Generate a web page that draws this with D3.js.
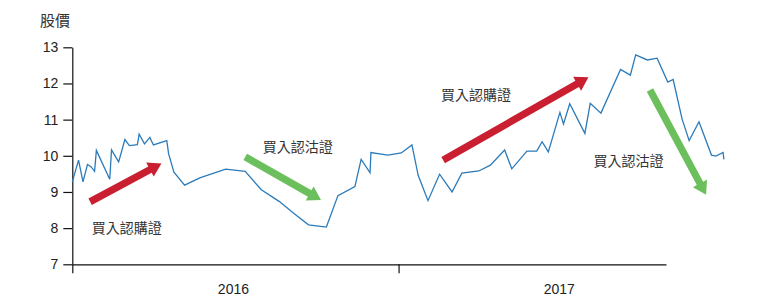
<!DOCTYPE html>
<html>
<head>
<meta charset="utf-8">
<script src="https://cdn.jsdelivr.net/npm/d3@7"></script>
<style>
  body { margin: 0; background: #fff; }
  svg { display: block; }
  .axis text { font-family: "Liberation Sans", Arial, sans-serif; font-size: 14px; fill: #222; }
  .axis path, .axis line { stroke: #111; stroke-width: 1.2; }
  .note { font-family: "Noto Sans CJK TC", sans-serif; font-size: 14px; fill: #333; }
</style>
</head>
<body>
<div id="chart"><svg width="770" height="307"></svg></div>
<script>
// data
const dates = [
  '2016-01-01', '2016-01-08', '2016-01-13', '2016-01-18', '2016-01-22', '2016-01-26', '2016-01-28',
  '2016-02-12', '2016-02-14', '2016-02-22', '2016-02-29', '2016-03-05', '2016-03-14', '2016-03-16',
  '2016-03-22', '2016-03-28', '2016-04-01', '2016-04-16', '2016-04-18', '2016-04-24', '2016-05-06',
  '2016-05-23', '2016-06-21', '2016-07-13', '2016-07-31', '2016-08-20', '2016-09-06', '2016-09-22',
  '2016-10-12', '2016-10-25', '2016-11-13', '2016-11-20', '2016-11-30', '2016-12-01', '2016-12-20',
  '2017-01-04', '2017-01-16', '2017-01-23', '2017-02-03', '2017-02-16', '2017-03-02', '2017-03-13',
  '2017-04-01', '2017-04-14', '2017-04-30', '2017-05-08', '2017-05-25', '2017-06-05', '2017-06-11',
  '2017-06-18', '2017-07-01', '2017-07-05', '2017-07-12', '2017-07-29', '2017-08-04', '2017-08-16',
  '2017-09-07', '2017-09-18', '2017-09-24', '2017-10-07', '2017-10-18', '2017-10-30', '2017-11-05',
  '2017-11-15', '2017-11-23', '2017-12-04', '2017-12-18', '2017-12-23', '2017-12-31', '2018-01-01'
];
const prices = [
  9.28, 9.88, 9.28, 9.76, 9.70, 9.57, 10.15,
  9.35, 10.16, 9.83, 10.45, 10.28, 10.31, 10.60,
  10.33, 10.51, 10.30, 10.42, 10.06, 9.55, 9.19,
  9.39, 9.63, 9.57, 9.06, 8.74, 8.40, 8.09,
  8.03, 8.90, 9.15, 9.90, 9.53, 10.09, 10.02,
  10.08, 10.30, 9.46, 8.76, 9.49, 9.00, 9.52,
  9.58, 9.74, 10.16, 9.64, 10.13, 10.13, 10.39,
  10.11, 11.20, 10.88, 11.44, 10.62, 11.45, 11.18,
  12.39, 12.23, 12.79, 12.65, 12.70, 12.04, 12.11,
  11.02, 10.42, 10.94, 10.02, 9.99, 10.09, 9.90
];
const yTicks = [7, 8, 9, 10, 11, 12, 13];
const years = ['2016', '2017'];

// annotations: arrows [from date, from price, to date, to price], labels
const arrowKinds = ['call', 'put', 'call', 'put'];
const arrowFrom = [['2016-01-21', 8.73], ['2016-07-13', 9.97], ['2017-02-20', 9.88], ['2017-10-10', 11.82]];
const arrowTo = [['2016-04-10', 9.79], ['2016-10-06', 8.78], ['2017-08-02', 12.17], ['2017-12-12', 8.92]];
const noteTexts = ['買入認購證', '買入認沽證', '買入認購證', '買入認沽證'];
const notePos = [['2016-03-02', 8.0], ['2016-09-10', 10.24], ['2017-03-29', 11.68], ['2017-09-16', 9.86]];

const parse = d3.utcParse('%Y-%m-%d');
const svg = d3.select('#chart svg');

const scaleX = d3.scaleUtc()
  .domain([parse('2016-01-01'), parse('2017-10-28')])
  .range([72.3, 666]);

const scaleY = d3.scaleLinear()
  .domain([7, 13])
  .range([264.3, 47.3]);

const scaleColor = d3.scaleOrdinal()
  .domain(['call', 'put'])
  .range(['#c91f30', '#6cbf5d']);

// x axis
svg.append('g')
  .attr('class', 'axis')
  .attr('transform', `translate(0,${scaleY(7)})`)
  .call(d3.axisBottom(scaleX)
    .tickValues(years.map(y => parse(y + '-01-01')))
    .tickFormat('')
    .tickSize(9)
    .tickSizeOuter(0));

svg.append('g')
  .attr('class', 'axis')
  .selectAll('text')
  .data(years)
  .join('text')
  .text(d => d)
  .attr('x', d => (scaleX(parse(d + '-01-01')) + scaleX(parse((+d + 1) + '-01-01'))) / 2 - 2)
  .attr('y', 294)
  .style('text-anchor', 'middle');

// y axis
svg.append('g')
  .attr('class', 'axis')
  .attr('transform', `translate(${scaleX(parse('2016-01-01'))},0)`)
  .call(d3.axisLeft(scaleY)
    .tickValues(yTicks)
    .tickFormat(d3.format('d'))
    .tickSize(9)
    .tickPadding(5)
    .tickSizeOuter(0));

svg.append('text')
  .attr('class', 'note')
  .attr('x', 40)
  .attr('y', 26)
  .style('font-size', '15px')
  .text('股價');

// price line
const points = dates.map((d, i) => [parse(d), prices[i]]);
svg.append('path')
  .datum(points)
  .attr('fill', 'none')
  .attr('stroke', '#2b7bba')
  .attr('stroke-width', 1.3)
  .attr('d', d3.line()
    .x(d => scaleX(d[0]))
    .y(d => scaleY(d[1])));

// arrows
function arrowPath(x1, y1, x2, y2) {
  const len = Math.hypot(x2 - x1, y2 - y1);
  const ux = (x2 - x1) / len, uy = (y2 - y1) / len;
  const nx = -uy, ny = ux;
  const w = 3.6, hw = 8, hl = 13;
  const bx = x2 - ux * hl, by = y2 - uy * hl;
  const pts = [
    [x1 + nx * w, y1 + ny * w],
    [bx + nx * w, by + ny * w],
    [bx + nx * hw, by + ny * hw],
    [x2, y2],
    [bx - nx * hw, by - ny * hw],
    [bx - nx * w, by - ny * w],
    [x1 - nx * w, y1 - ny * w]
  ];
  return 'M' + pts.map(p => p.join(',')).join('L') + 'Z';
}

svg.append('g')
  .selectAll('path')
  .data(arrowKinds)
  .join('path')
  .attr('d', (d, i) => arrowPath(
    scaleX(parse(arrowFrom[i][0])), scaleY(arrowFrom[i][1]),
    scaleX(parse(arrowTo[i][0])), scaleY(arrowTo[i][1])))
  .style('fill', d => scaleColor(d));

svg.append('g')
  .selectAll('text')
  .data(noteTexts)
  .join('text')
  .attr('class', 'note')
  .text(d => d)
  .attr('x', (d, i) => scaleX(parse(notePos[i][0])))
  .attr('y', (d, i) => scaleY(notePos[i][1]))
  .attr('dy', '0.35em')
  .style('text-anchor', 'middle');
</script>
</body>
</html>
